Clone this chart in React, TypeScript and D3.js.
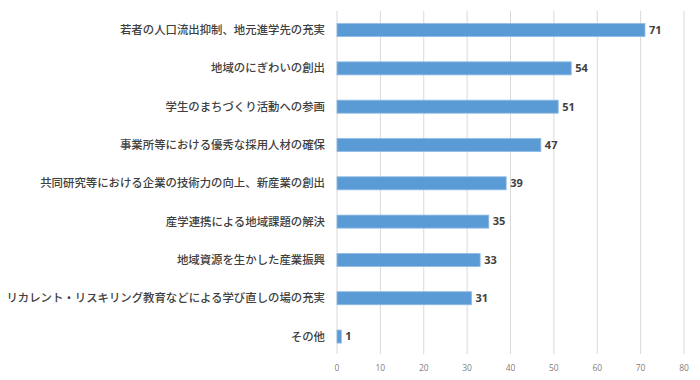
import React from "react";
import * as d3 from "d3";

const categories = [
  "若者の人口流出抑制、地元進学先の充実",
  "地域のにぎわいの創出",
  "学生のまちづくり活動への参画",
  "事業所等における優秀な採用人材の確保",
  "共同研究等における企業の技術力の向上、新産業の創出",
  "産学連携による地域課題の解決",
  "地域資源を生かした産業振興",
  "リカレント・リスキリング教育などによる学び直しの場の充実",
  "その他",
];
const values = [71, 54, 51, 47, 39, 35, 33, 31, 1];
const ticks = [0, 10, 20, 30, 40, 50, 60, 70, 80];

export default function App() {
  const W = 700, H = 380;
  const x = d3.scaleLinear().domain([0, 80]).range([337, 684]);
  const y = d3.scaleBand<string>().domain(categories).range([10.9, 355.7]).paddingInner(0.66).paddingOuter(0.33);
  const font = "'Noto Sans CJK JP', 'Noto Sans', sans-serif";
  return (
    <svg width={W} height={H} style={{ position: "absolute", left: 0, top: 0, background: "#fff" }}>
      {ticks.map((t) => (
        <line key={t} x1={x(t)} x2={x(t)} y1={11} y2={354} stroke="#d9d9d9" strokeWidth={1} />
      ))}
      {ticks.map((t) => (
        <text key={"t" + t} x={x(t)} y={371} fontSize={8.5} fill="#808080" textAnchor="middle" fontFamily="'Open Sans', sans-serif">
          {t}
        </text>
      ))}
      {categories.map((c, i) => (
        <g key={c}>
          <rect x={x(0)} y={y(c)} width={x(values[i]) - x(0)} height={y.bandwidth()} fill="#5b9bd5" stroke="#8fbbe6" strokeWidth={0.8} />
          <text x={x(values[i]) + 4} y={(y(c) as number) + y.bandwidth() / 2} dy="0.35em" fontSize={11} fontWeight="bold" fill="#404040" fontFamily="'Open Sans', sans-serif">
            {values[i]}
          </text>
          <text x={325} y={(y(c) as number) + y.bandwidth() / 2} dy="0.36em" fontSize={11.4} fontWeight={500} textAnchor="end" fill="#404040" fontFamily={font}>
            {c}
          </text>
        </g>
      ))}
    </svg>
  );
}
